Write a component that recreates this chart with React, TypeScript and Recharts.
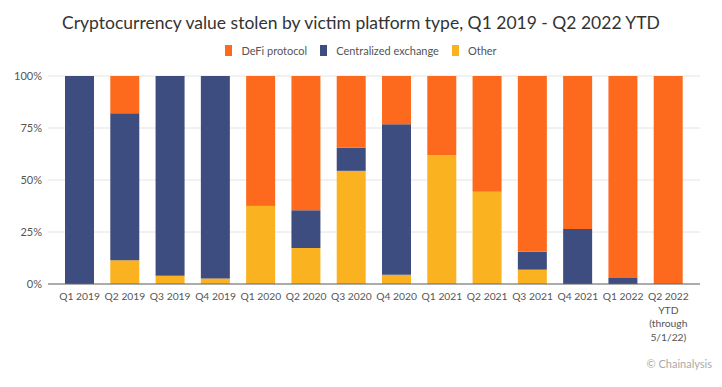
import React from "react"
import { BarChart, Bar, XAxis, YAxis, CartesianGrid } from "recharts"

const quarters = [
    "Q1 2019", "Q2 2019", "Q3 2019", "Q4 2019",
    "Q1 2020", "Q2 2020", "Q3 2020", "Q4 2020",
    "Q1 2021", "Q2 2021", "Q3 2021", "Q4 2021",
    "Q1 2022", "Q2 2022\nYTD\n(through\n5/1/22)"
]
const otherShare = [0, 11.4, 4, 2.7, 37.7, 17.3, 54.4, 4.5, 61.9, 44.3, 6.9, 0, 0, 0]
const centralizedShare = [100, 70.7, 96, 97.3, 0.3, 18.2, 11.2, 72.3, 0, 0, 8.6, 26.4, 2.9, 0]
const defiShare = [0, 17.9, 0, 0, 62, 64.5, 34.4, 23.2, 38.1, 55.7, 84.5, 73.6, 97.1, 100]
const yTicks = [0, 25, 50, 75, 100]

const seriesInfo = [
    { key: "defi", name: "DeFi protocol", color: "#fd6a1e" },
    { key: "centralized", name: "Centralized exchange", color: "#3e4d80" },
    { key: "other", name: "Other", color: "#fab221" }
]

const data = quarters.map((q, i) => ({
    quarter: q,
    other: otherShare[i],
    centralized: centralizedShare[i],
    defi: defiShare[i]
}))

const font = "Lato, 'Open Sans', sans-serif"

const QuarterTick = ({ x, y, payload }: any) => {
    const lines = String(payload.value).split("\n")
    return (
        <text x={x} y={y} textAnchor="middle" fill="#555" fontSize={10.3} fontFamily={font}>
            {lines.map((line, i) => (
                <tspan key={i} x={x} dy={i === 0 ? "0.9em" : 13.5}>{line}</tspan>
            ))}
        </text>
    )
}

export default function App() {
    return (
        <div style={{ position: "absolute", left: 0, top: 0, width: 722, height: 387, background: "#fff", fontFamily: font }}>
            <div style={{ position: "absolute", top: 12, left: 0, width: 722, textAlign: "center", fontSize: 17.5, color: "#333" }}>
                Cryptocurrency value stolen by victim platform type, Q1 2019 - Q2 2022 YTD
            </div>
            <div style={{ position: "absolute", top: 44, left: 0, width: 722, display: "flex", justifyContent: "center", gap: 13, fontSize: 11, color: "#555" }}>
                {seriesInfo.map((s) => (
                    <div key={s.key} style={{ display: "flex", alignItems: "center" }}>
                        <span style={{ display: "inline-block", width: 7, height: 11, background: s.color, marginRight: 9 }} />
                        {s.name}
                    </div>
                ))}
            </div>
            <BarChart
                width={722}
                height={387}
                data={data}
                barSize={29}
                margin={{ top: 76, right: 22, left: 0, bottom: 43 }}
            >
                <CartesianGrid vertical={false} stroke="#e4e4e4" />
                <XAxis
                    dataKey="quarter"
                    interval={0}
                    height={60}
                    padding={{ left: 9, right: 9 }}
                    tickLine={false}
                    tickSize={0}
                    tickMargin={7}
                    stroke="#666"
                    tick={<QuarterTick />}
                />
                <YAxis
                    width={48}
                    domain={[0, 100]}
                    ticks={yTicks}
                    tickFormatter={(v) => v + "%"}
                    axisLine={false}
                    tickLine={false}
                    tickSize={0}
                    tickMargin={6}
                    tick={{ fill: "#555", fontSize: 11, fontFamily: font }}
                />
                <Bar dataKey="other" name="Other" stackId="a" fill="#fab221" isAnimationActive={false} />
                <Bar dataKey="centralized" name="Centralized exchange" stackId="a" fill="#3e4d80" isAnimationActive={false} />
                <Bar dataKey="defi" name="DeFi protocol" stackId="a" fill="#fd6a1e" isAnimationActive={false} />
            </BarChart>
            <div style={{ position: "absolute", right: 10, top: 357, fontSize: 11, color: "#aaa" }}>
                © Chainalysis
            </div>
        </div>
    )
}
